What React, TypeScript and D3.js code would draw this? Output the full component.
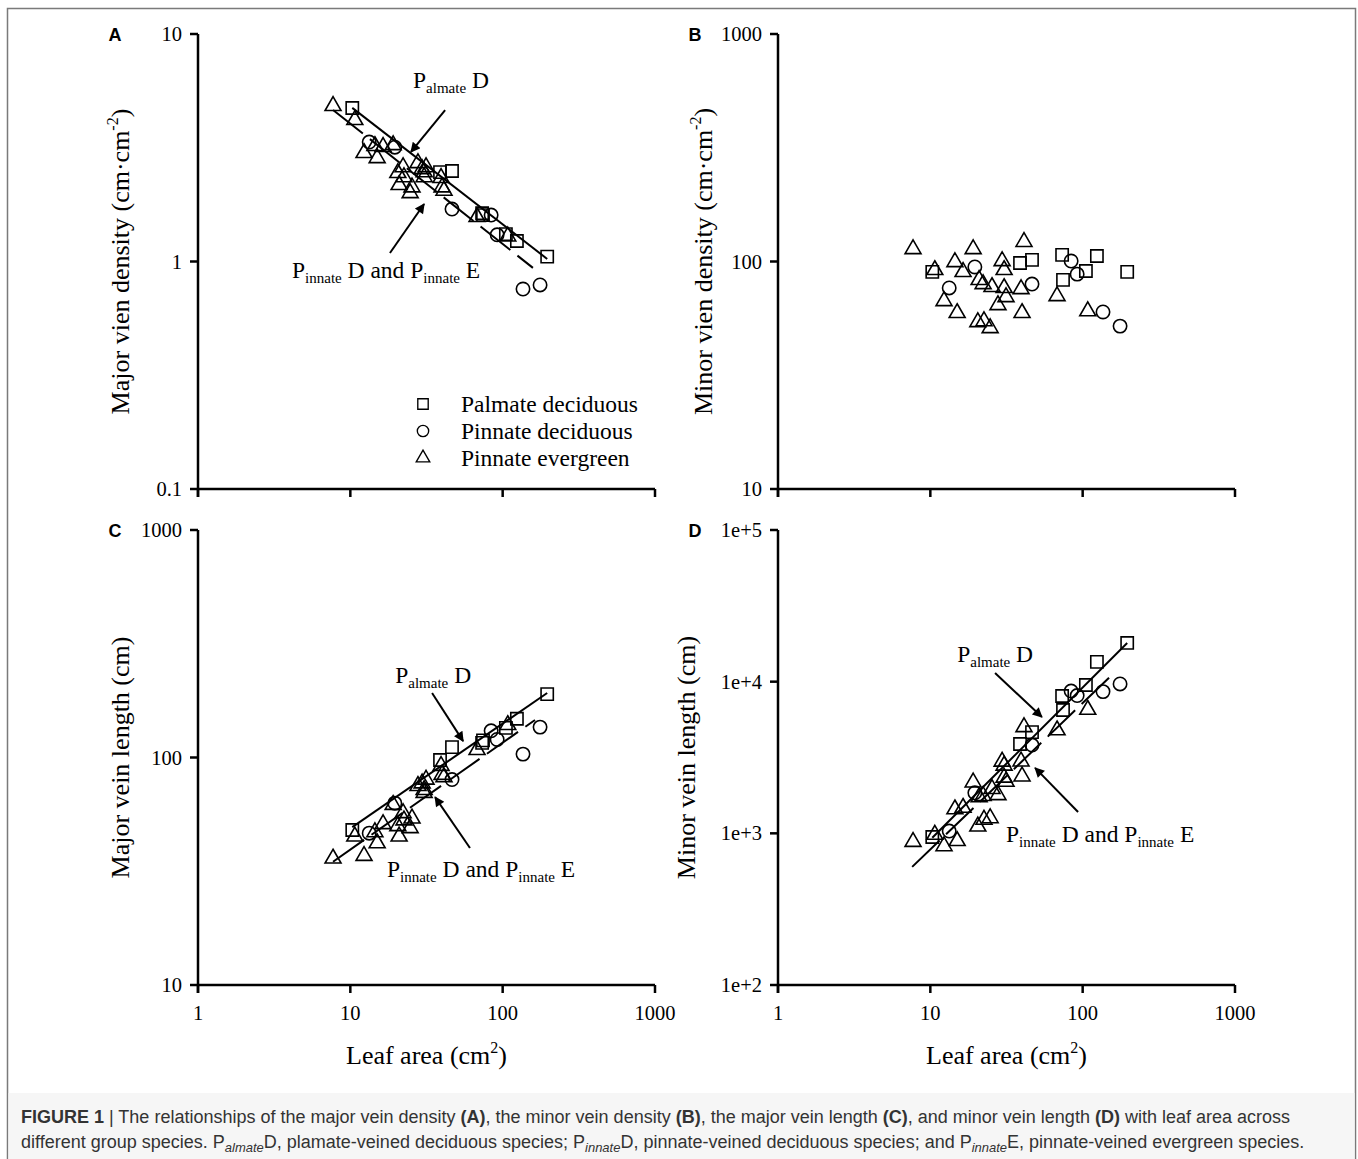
import React from "react";
import * as d3 from "d3";

// leaf area (cm2) and traits per group
const palmateArea = [10.3, 38.8, 46.5, 73.3, 74.3, 105, 124, 196];
const palmateMajorDensity = [4.73, 2.47, 2.5, 1.63, 1.6, 1.32, 1.23, 1.05];
const palmateMinorDensity = [90, 98.5, 101.6, 107, 83, 90.8, 105.7, 90];
const palmateMajorLength = [48, 97.5, 111, 116, 119, 135, 148, 190];
const palmateMinorLength = [946, 3880, 4650, 8050, 6500, 9500, 13500, 18000];

const pinDecArea = [13.3, 19.6, 46.5, 84, 92, 136, 176];
const pinDecMajorDensity = [3.35, 3.18, 1.7, 1.6, 1.31, 0.757, 0.789];
const pinDecMinorDensity = [76.5, 94.6, 79.6, 100.5, 88, 60, 52];
const pinDecMajorLength = [46.5, 63, 80, 131, 120, 103.5, 136];
const pinDecMinorLength = [1035, 1850, 3820, 8670, 8100, 8600, 9660];

const pinEvArea = [7.7, 10.7, 12.3, 14.5, 15.0, 16.4, 19.1, 20.5, 20.9, 22.2, 22.5, 24.7, 25.4, 27.8, 29.6, 30.5, 30.5, 31.4, 39.4, 40.0, 41.2, 67.9, 108];
const pinEvMajorDensity = [4.83, 4.19, 3.0, 3.22, 2.85, 3.19, 3.25, 2.45, 2.17, 2.6, 2.35, 2.0, 2.12, 2.71, 2.55, 2.47, 2.35, 2.6, 2.33, 2.12, 2.05, 1.57, 1.29];
const pinEvMinorDensity = [113.5, 91.8, 67, 99.5, 59.4, 90, 113.5, 54.2, 83, 79.6, 54.7, 51, 77.3, 64.4, 100.5, 91.8, 76.5, 69.8, 75.7, 59.4, 122, 70.5, 60.5];
const pinEvMajorLength = [36, 45, 37, 47, 42, 51, 62, 50, 45, 57, 53, 49, 54, 75, 77, 72, 70, 80, 92, 84, 82, 108, 139];
const pinEvMinorLength = [880, 980, 824, 1443, 891, 1476, 2168, 1111, 1735, 1767, 1231, 1260, 1963, 1790, 2975, 2800, 2333, 2192, 2983, 2376, 5026, 4787, 6534];

// log-log fits: [intercept, slope, area from, area to]
const fitPalmateA = [1.201, -0.519, 10.3, 196];
const fitPinnateA = [1.135, -0.529, 7.7, 158];
const fitPalmateC = [1.227, 0.461, 10.3, 196];
const fitPinnateC = [1.125, 0.47, 7.7, 163];
const fitPalmateD = [1.954, 1.004, 10.3, 196];
const fitPinnateD = [1.929, 0.965, 7.6, 163];

const xTicks = [1, 10, 100, 1000];
const xTickLabels = ["1", "10", "100", "1000"];
const yTicksA = [0.1, 1, 10];
const yTickLabelsA = ["0.1", "1", "10"];
const yTicksB = [10, 100, 1000];
const yTickLabelsB = ["10", "100", "1000"];
const yTicksC = [10, 100, 1000];
const yTickLabelsC = ["10", "100", "1000"];
const yTicksD = [100, 1000, 10000, 100000];
const yTickLabelsD = ["1e+2", "1e+3", "1e+4", "1e+5"];

const legendLabels = ["Palmate deciduous", "Pinnate deciduous", "Pinnate evergreen"];

const serif = "'Liberation Serif', 'Times New Roman', serif";
const sans = "'Liberation Sans', Arial, sans-serif";

type Fit = number[];
type Note = { text: string[]; at: number[]; tail: number[]; tip: number[] };

interface PanelCfg {
    letter: string;
    left: number; right: number; top: number; bottom: number;
    yDomain: [number, number];
    yTicks: number[];
    yTickLabels: string[];
    yTitle: string;
    ySup: boolean;
    titleX: number;
    xLabels: boolean;
    major: boolean; minor: boolean; density: boolean;
    fits: Fit[];
    notes: Note[];
    legend: boolean;
}

const panels: PanelCfg[] = [
    {
        letter: "A", left: 198, right: 655, top: 34, bottom: 489, yDomain: [0.1, 10],
        yTicks: yTicksA, yTickLabels: yTickLabelsA, yTitle: "Major vien density (cm·cm", ySup: true, titleX: 129,
        xLabels: false, major: true, minor: false, density: true, fits: [fitPalmateA, fitPinnateA],
        notes: [
            { text: ["P", "almate", " D"], at: [25.8, 5.8], tail: [41.9, 4.63], tip: [25, 3.03] },
            { text: ["P", "innate", " D and P", "innate", " E"], at: [4.14, 0.85], tail: [18.2, 1.09], tip: [30.5, 1.79] },
        ],
        legend: true,
    },
    {
        letter: "B", left: 778, right: 1235, top: 34, bottom: 489, yDomain: [10, 1000],
        yTicks: yTicksB, yTickLabels: yTickLabelsB, yTitle: "Minor vien density (cm·cm", ySup: true, titleX: 712,
        xLabels: false, major: false, minor: true, density: true, fits: [], notes: [], legend: false,
    },
    {
        letter: "C", left: 198, right: 655, top: 530, bottom: 985, yDomain: [10, 1000],
        yTicks: yTicksC, yTickLabels: yTickLabelsC, yTitle: "Major vein length (cm)", ySup: false, titleX: 129,
        xLabels: true, major: true, minor: false, density: false, fits: [fitPalmateC, fitPinnateC],
        notes: [
            { text: ["P", "almate", " D"], at: [19.7, 212], tail: [34.4, 192], tip: [55, 118] },
            { text: ["P", "innate", " D and P", "innate", " E"], at: [17.4, 29.9], tail: [61, 40], tip: [36, 67] },
        ],
        legend: false,
    },
    {
        letter: "D", left: 778, right: 1235, top: 530, bottom: 985, yDomain: [100, 100000],
        yTicks: yTicksD, yTickLabels: yTickLabelsD, yTitle: "Minor vein length (cm)", ySup: false, titleX: 695,
        xLabels: true, major: false, minor: true, density: false, fits: [fitPalmateD, fitPinnateD],
        notes: [
            { text: ["P", "almate", " D"], at: [15, 13500], tail: [26.6, 11400], tip: [54, 5850] },
            { text: ["P", "innate", " D and P", "innate", " E"], at: [31.4, 877], tail: [93.3, 1384], tip: [48.7, 2700] },
        ],
        legend: false,
    },
];

const squarePath = d3.symbol().type(d3.symbolSquare).size(150)()!;
const circlePath = d3.symbol().type(d3.symbolCircle).size(140)()!;
const trianglePath = d3.symbol().type(d3.symbolTriangle).size(110)()!;

function seriesFor(p: PanelCfg) {
    const pick = (md: number[], mi: number[], ml: number[], nl: number[]) =>
        p.density ? (p.major ? md : mi) : (p.major ? ml : nl);
    return [
        { area: palmateArea, vals: pick(palmateMajorDensity, palmateMinorDensity, palmateMajorLength, palmateMinorLength), path: squarePath },
        { area: pinDecArea, vals: pick(pinDecMajorDensity, pinDecMinorDensity, pinDecMajorLength, pinDecMinorLength), path: circlePath },
        { area: pinEvArea, vals: pick(pinEvMajorDensity, pinEvMinorDensity, pinEvMajorLength, pinEvMinorLength), path: trianglePath },
    ];
}

function NoteText({ parts, x, y }: { parts: string[]; x: number; y: number }) {
    return (
        <text x={x} y={y} fontFamily={serif} fontSize={23.5} fill="#000">
            {parts.map((t, i) => {
                const sub = i % 2 === 1;
                const prevSub = i > 0 && (i - 1) % 2 === 1;
                return (
                    <tspan key={i} fontSize={sub ? 15 : 23.5} dy={sub ? 5 : prevSub ? -5 : 0}>{t}</tspan>
                );
            })}
        </text>
    );
}

function Panel({ p }: { p: PanelCfg }) {
    const x = d3.scaleLog().domain([1, 1000]).range([p.left, p.right]);
    const y = d3.scaleLog().domain(p.yDomain).range([p.bottom, p.top]);
    const series = seriesFor(p);
    const midY = (p.top + p.bottom) / 2;
    const fitLine = (f: Fit) => {
        const pts = [f[2], f[3]].map(a => [x(a), y(Math.pow(10, f[0] + f[1] * Math.log10(a)))] as [number, number]);
        return d3.line()(pts)!;
    };
    return (
        <g>
            <text x={p.left - 83} y={p.top + 7} fontFamily={sans} fontWeight="bold" fontSize={18} textAnchor="middle">{p.letter}</text>
            {/* axes */}
            <line x1={p.left} x2={p.left} y1={p.top} y2={p.bottom + 8} stroke="#000" strokeWidth={2.5} />
            <line x1={p.left} x2={p.right} y1={p.bottom} y2={p.bottom} stroke="#000" strokeWidth={2.5} />
            {p.yTicks.map((t, i) => (
                <g key={"y" + t}>
                    <line x1={p.left - 8} x2={p.left} y1={y(t)} y2={y(t)} stroke="#000" strokeWidth={2.5} />
                    <text x={p.left - 16} y={y(t) + 7} textAnchor="end" fontFamily={serif} fontSize={20.5}>{p.yTickLabels[i]}</text>
                </g>
            ))}
            {xTicks.map((t, i) => (
                <g key={"x" + t}>
                    <line x1={x(t)} x2={x(t)} y1={p.bottom} y2={p.bottom + 8} stroke="#000" strokeWidth={2.5} />
                    {p.xLabels && (
                        <text x={x(t)} y={p.bottom + 35} textAnchor="middle" fontFamily={serif} fontSize={20.5}>{xTickLabels[i]}</text>
                    )}
                </g>
            ))}
            {p.xLabels && (
                <text x={(p.left + p.right) / 2} y={p.bottom + 79} textAnchor="middle" fontFamily={serif} fontSize={26}>
                    Leaf area (cm<tspan fontSize={16} dy={-11}>2</tspan><tspan dy={11}>)</tspan>
                </text>
            )}
            <text transform={`translate(${p.titleX},${midY}) rotate(-90)`} textAnchor="middle" fontFamily={serif} fontSize={26}>
                {p.yTitle}
                {p.ySup && <tspan fontSize={16} dy={-11}>-2</tspan>}
                {p.ySup && <tspan dy={11}>)</tspan>}
            </text>
            {/* regression lines */}
            {p.fits.map((f, i) => (
                <path key={"f" + i} d={fitLine(f)} fill="none" stroke="#000" strokeWidth={2}
                    strokeDasharray={i === 1 ? "38,9" : undefined} />
            ))}
            {/* points */}
            {series.map((s, si) => s.area.map((a, i) => (
                <path key={si + "-" + i} d={s.path} transform={`translate(${x(a)},${y(s.vals[i])})`}
                    fill="none" stroke="#000" strokeWidth={1.6} />
            )))}
            {/* annotations */}
            {p.notes.map((n, i) => (
                <g key={"n" + i}>
                    <NoteText parts={n.text} x={x(n.at[0])} y={y(n.at[1])} />
                    <line x1={x(n.tail[0])} y1={y(n.tail[1])} x2={x(n.tip[0])} y2={y(n.tip[1])}
                        stroke="#000" strokeWidth={2} markerEnd="url(#arrowhead)" />
                </g>
            ))}
            {p.legend && legendLabels.map((l, i) => (
                <g key={l}>
                    <path d={[squarePath, circlePath, trianglePath][i]} transform={`translate(423,${404 + i * 27}) scale(0.85)`}
                        fill="none" stroke="#000" strokeWidth={1.6} />
                    <text x={461} y={404 + i * 27 + 8} fontFamily={serif} fontSize={23.5}>{l}</text>
                </g>
            ))}
        </g>
    );
}

export default function App() {
    return (
        <svg width={1358} height={1159} style={{ position: "absolute", left: 0, top: 0, background: "#fff" }}>
            <defs>
                <marker id="arrowhead" viewBox="0 0 10 10" refX="9" refY="5" markerWidth="14" markerHeight="10"
                    markerUnits="userSpaceOnUse" orient="auto">
                    <path d="M0,0 L10,5 L0,10 z" fill="#000" />
                </marker>
            </defs>
            <rect x={7.5} y={8.5} width={1348} height={1160} fill="#fff" stroke="#7a7a7a" strokeWidth={1.5} />
            <rect x={8.5} y={1093} width={1346} height={66} fill="#f6f6f6" />
            {panels.map(p => <Panel key={p.letter} p={p} />)}
            <text x={21} y={1123} fontFamily={sans} fontSize={18} fill="#333">
                <tspan fontWeight="bold">FIGURE 1</tspan> | The relationships of the major vein density{" "}
                <tspan fontWeight="bold">(A)</tspan>, the minor vein density <tspan fontWeight="bold">(B)</tspan>, the major vein length{" "}
                <tspan fontWeight="bold">(C)</tspan>, and minor vein length <tspan fontWeight="bold">(D)</tspan> with leaf area across
            </text>
            <text x={21} y={1148} fontFamily={sans} fontSize={18} fill="#333">
                different group species. P<tspan fontStyle="italic" fontSize={13} dy={4}>almate</tspan>
                <tspan dy={-4}>D, plamate-veined deciduous species; P</tspan>
                <tspan fontStyle="italic" fontSize={13} dy={4}>innate</tspan>
                <tspan dy={-4}>D, pinnate-veined deciduous species; and P</tspan>
                <tspan fontStyle="italic" fontSize={13} dy={4}>innate</tspan>
                <tspan dy={-4}>E, pinnate-veined evergreen species.</tspan>
            </text>
        </svg>
    );
}
